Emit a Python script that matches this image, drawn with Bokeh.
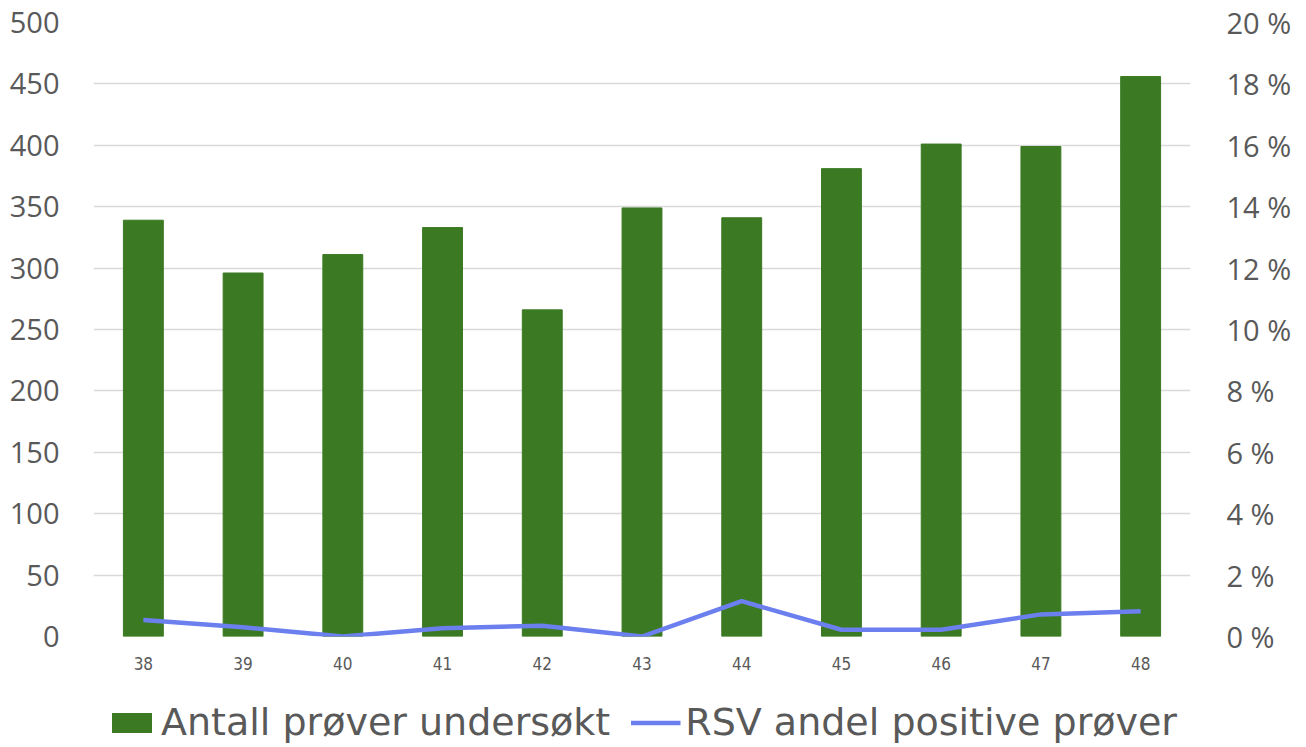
from bokeh.plotting import figure
from bokeh.layouts import column
from bokeh.models import Range1d, FactorRange, LinearAxis, Legend, LegendItem, PrintfTickFormatter, FixedTicker, ColumnDataSource
from bokeh.embed import file_html
from bokeh.resources import INLINE

weeks = ["38", "39", "40", "41", "42", "43", "44", "45", "46", "47", "48"]
antall = [339, 296, 311, 333, 266, 349, 341, 381, 401, 399, 456]
rsv_pct = [0.54, 0.30, 0.0, 0.27, 0.35, 0.0, 1.15, 0.22, 0.22, 0.72, 0.82]
left_ticks = list(range(0, 501, 50))
right_ticks = list(range(0, 21, 2))
legend_labels = ["Antall prøver undersøkt", "RSV andel positive prøver"]

GREEN = "#3B7A22"
BLUE = "#6B7FEE"
GREY = "#595959"

src = ColumnDataSource(dict(week=weeks, antall=antall, rsv=rsv_pct))

p = figure(x_range=FactorRange(*weeks), y_range=Range1d(0, 500),
           width=1306, height=680,
           min_border_left=93, min_border_right=116, min_border_top=22, min_border_bottom=44,
           output_backend="svg", toolbar_location=None)
p.extra_y_ranges = {"pct": Range1d(0, 20)}

bars = p.vbar(x="week", top="antall", width=0.4, source=src, fill_color=GREEN, line_color=GREEN)
line = p.line(x="week", y="rsv", source=src, y_range_name="pct", line_color=BLUE, line_width=4.5)

p.outline_line_color = None
p.background_fill_color = "white"
p.border_fill_color = "white"
p.xgrid.grid_line_color = None
p.ygrid.grid_line_color = "#D9D9D9"
p.ygrid.grid_line_width = 1.5
p.ygrid.ticker = FixedTicker(ticks=left_ticks)

p.yaxis.ticker = FixedTicker(ticks=left_ticks)
for ax in [p.yaxis[0], p.xaxis[0]]:
    ax.axis_line_color = None
    ax.major_tick_line_color = None
    ax.minor_tick_line_color = None
    ax.major_label_text_color = GREY
p.yaxis.major_label_text_font = "Open Sans"
p.yaxis.major_label_text_font_size = "29px"
p.yaxis.major_label_standoff = 28
p.xaxis.major_label_text_font = "'DejaVu Sans Condensed', Roboto, sans-serif"
p.xaxis.major_label_text_font_size = "17px"
p.xaxis.major_label_standoff = 14

ry = LinearAxis(y_range_name="pct", ticker=FixedTicker(ticks=right_ticks),
                formatter=PrintfTickFormatter(format="%d %%"))
ry.axis_line_color = None
ry.major_tick_line_color = None
ry.minor_tick_line_color = None
ry.major_label_text_color = GREY
ry.major_label_text_font = "Open Sans"
ry.major_label_text_font_size = "29px"
ry.major_label_standoff = 30
p.add_layout(ry, "right")

# legend strip below the chart: same series, drawn outside its visible range,
# only their legend swatches show
lg = figure(width=1306, height=67, x_range=FactorRange(*weeks), y_range=Range1d(1000, 1001),
            x_axis_location=None, y_axis_location=None,
            min_border_left=0, min_border_right=0, min_border_top=17, min_border_bottom=0,
            output_backend="svg", toolbar_location=None)
lg.outline_line_color = None
lg.xgrid.grid_line_color = None
lg.ygrid.grid_line_color = None
lbars = lg.vbar(x="week", top="antall", width=0.4, source=src, fill_color=GREEN, line_color=None)
lline = lg.line(x="week", y="rsv", source=src, line_color=BLUE, line_width=4.5)
legend = Legend(items=[LegendItem(label=legend_labels[0], renderers=[lbars]),
                       LegendItem(label=legend_labels[1], renderers=[lline])],
                orientation="horizontal", location="center",
                label_text_font="DejaVu Sans", label_text_font_size="38px",
                label_text_color=GREY, glyph_width=50, glyph_height=25,
                spacing=20, label_standoff=5, border_line_color=None,
                background_fill_alpha=0, padding=0, margin=0)
lg.add_layout(legend, "center")

open("out.html", "w").write(file_html(column(p, lg, spacing=0), INLINE))
